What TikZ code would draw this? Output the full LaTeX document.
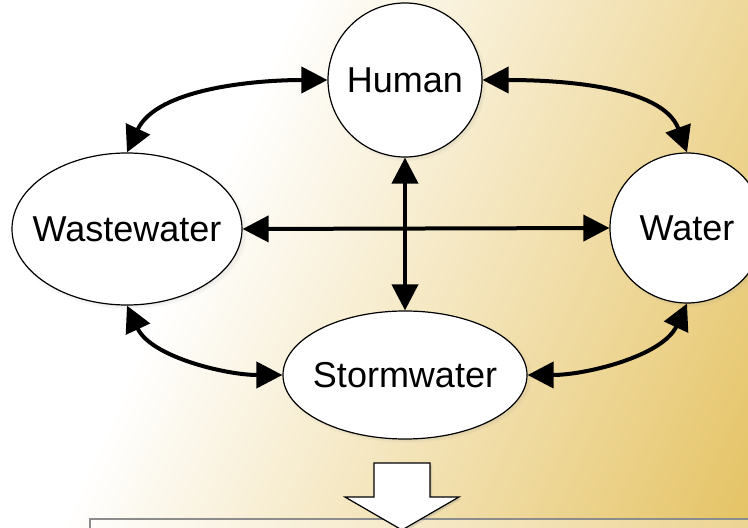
\documentclass[tikz,border=0pt]{standalone}
\usepackage{fontspec}
\setmainfont{Liberation Sans}
\usetikzlibrary{arrows.meta,shapes.geometric,shadows}

\definecolor{goldC}{RGB}{229,195,100}

% text that does not widen its ellipse
\newcommand{\nodetext}[1]{\makebox[0pt]{#1}}

\begin{document}
\begin{tikzpicture}[x=1pt, y=1pt,
    part/.style={ellipse, draw=black, line width=1.2pt, fill=white, inner sep=0pt,
        font=\fontsize{36}{40}\selectfont,
        circular drop shadow={shadow scale=1.03, shadow xshift=2pt, shadow yshift=-2pt, opacity=0.35}},
    link/.style={line width=4pt, <->, >={Triangle[length=26pt,width=26pt]}}
]
\useasboundingbox (0,0) rectangle (748,528);
\clip (0,0) rectangle (748,528);
% background: white top left, gold bottom right
\begin{scope}[transform canvas={rotate around={-24.4:(374,264)}}]
  \fill[white] (-400,-400) rectangle (198,930);
  \shade[left color=white, right color=goldC] (197,-400) rectangle (824,930);
  \fill[goldC] (823,-400) rectangle (1200,930);
\end{scope}

\node at (405, 448) [part, minimum width=154pt, minimum height=154pt] (human) {\nodetext{Human}};
\node at (127, 299) [part, minimum width=230pt, minimum height=152pt] (waste) {\nodetext{Wastewater}};
\node at (687, 300) [part, minimum width=154pt, minimum height=150pt] (water) {\nodetext{Water}};
\node at (405, 153) [part, minimum width=244pt, minimum height=128pt] (storm) {\nodetext{Stormwater}};

\draw[link] (human.west) to[out=180, in=65, looseness=0.85] (waste.north);
\draw[link] (human.east) to[out=0, in=110, looseness=0.85] (water.north);
\draw[link] (waste.south) to[out=-65, in=180, looseness=0.85] (storm.west);
\draw[link] (storm.east) to[out=0, in=-115, looseness=0.85] (water.south);
\draw[link] (waste.east) -- (water.west);
\draw[link] (human.south) -- (storm.north);

% box below and the big arrow into it
\draw[draw=black!45, line width=2pt, fill=white, fill opacity=0.3] (90,9) rectangle (760,-20);
\draw[line width=1.2pt, fill=white, drop shadow={shadow xshift=2pt, shadow yshift=-2pt, opacity=0.25}]
    (374,65) -- (430,65) -- (430,31) -- (459,31) -- (402,-2) -- (345,31) -- (374,31) -- cycle;
\end{tikzpicture}
\end{document}
